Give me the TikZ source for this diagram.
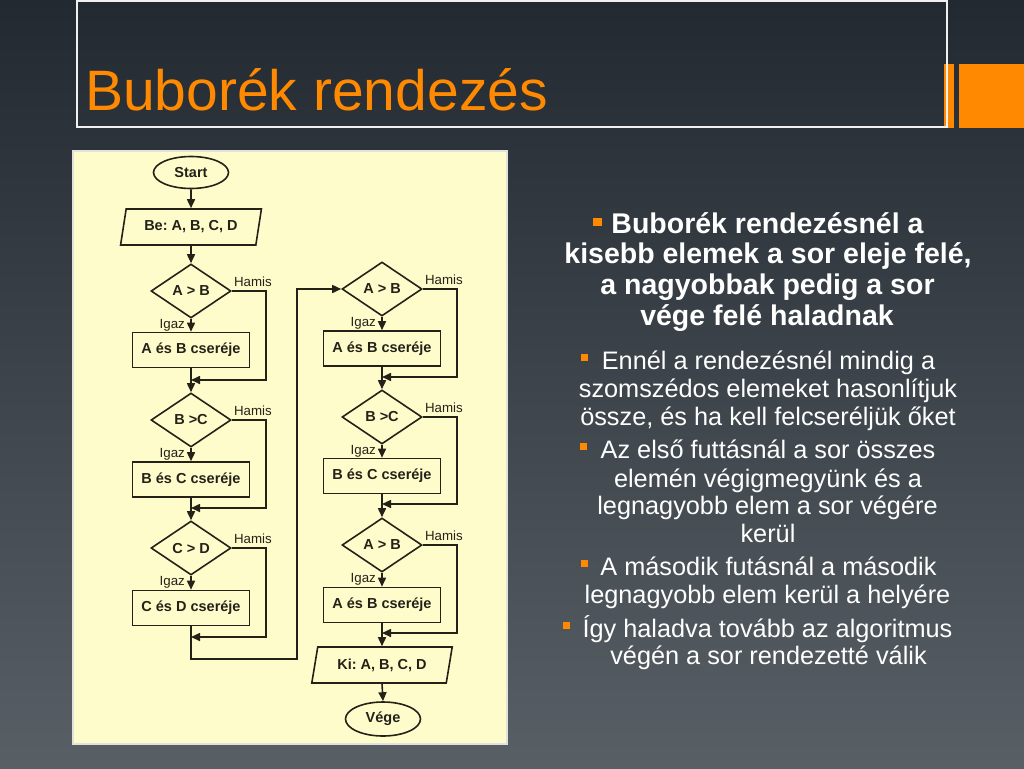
\documentclass[tikz,border=0pt]{standalone}
\usepackage{fontspec}
\setmainfont{Liberation Sans}
\usetikzlibrary{shapes.geometric,arrows.meta,calc}
\frenchspacing
\definecolor{bgtop}{RGB}{34,41,48}
\definecolor{bgmid}{RGB}{42,49,56}
\definecolor{bgbot}{RGB}{88,95,101}
\definecolor{orng}{RGB}{255,137,0}
\definecolor{panelfill}{RGB}{255,252,204}
\definecolor{panelline}{RGB}{225,225,222}
\definecolor{ink}{RGB}{36,34,24}
\definecolor{hdrline}{RGB}{240,240,240}
\begin{document}
\frenchspacing
\begin{tikzpicture}[x=1pt,y=-1pt,
  fc/.style={draw=ink, line width=1.6pt, text=ink, font=\fontsize{14.5}{16}\selectfont\bfseries\frenchspacing, inner sep=0pt},
  term/.style={fc, ellipse, minimum width=75pt, minimum height=32pt},
  io/.style={fc, trapezium, trapezium left angle=72, trapezium right angle=108, trapezium stretches=true, minimum width=141pt, minimum height=36pt},
  dec/.style={fc, diamond, minimum width=80pt, minimum height=54pt},
  proc/.style={fc, rectangle, minimum width=117pt, minimum height=35pt},
  lbl/.style={text=ink, font=\fontsize{13.3}{15}\selectfont, inner sep=0pt},
  arr/.style={draw=ink, line width=1.6pt, -{Triangle[length=9pt,width=8pt]}},
  hd/.style={text=white, font=\fontsize{28.5}{31}\selectfont\bfseries\frenchspacing, anchor=base, inner sep=0pt},
  bd/.style={text=white, font=\fontsize{25.3}{28}\selectfont\frenchspacing, anchor=base, inner sep=0pt},
  bul/.style={fill=orng}
]
\useasboundingbox (0,0) rectangle (1024,768);
\shade[top color=bgtop, middle color=bgmid, bottom color=bgbot] (0,0) rectangle (1024,768);

% header
\fill[orng] (944,64) rectangle (954,128);
\fill[orng] (959,64) rectangle (1024,128);
\draw[hdrline, line width=2pt] (77,1) rectangle (947,127);
\node[anchor=base west, text=orng, font=\fontsize{57}{60}\selectfont, inner sep=0pt] (title) at (85,110) {Buborék rendezés};

% panel
\draw[panelline, fill=panelfill, line width=2pt] (73,151) rectangle (507,744);

% left column
\node[term] (start) at (191,172.5) {Start};
\node[io] (be) at (191,227) {Be: A, B, C, D};
\node[dec] (d1) at (191,291) {A > B};
\node[proc] (b1) at (191,350) {A és B cseréje};
\node[dec] (d2) at (191,420) {B >C};
\node[proc] (b2) at (191,479.5) {B és C cseréje};
\node[dec] (d3) at (191,548) {C > D};
\node[proc] (b3) at (191,608) {C és D cseréje};
\coordinate (m1) at (191,380);
\coordinate (m2) at (191,508);
\coordinate (m3) at (191,637);
\coordinate (lp) at (297,659);

% right column
\node[dec] (e1) at (382,289) {A > B};
\node[proc] (c1) at (382,348.5) {A és B cseréje};
\node[dec] (e2) at (382,417) {B >C};
\node[proc] (c2) at (382,476) {B és C cseréje};
\node[dec] (e3) at (382,545) {A > B};
\node[proc] (c3) at (382,605) {A és B cseréje};
\node[io] (ki) at (382,665) {Ki: A, B, C, D};
\node[term, minimum height=34pt] (vege) at (383,719) {Vége};
\coordinate (n1) at (382,377);
\coordinate (n2) at (382,504);
\coordinate (n3) at (382,633);

% connectors left
\draw[arr] (start) -- (be);
\draw[arr] (be) -- (d1);
\draw[arr] (d1) -- (b1);
\draw[arr] (b1) -- (d2);
\draw[arr] (d2) -- (b2);
\draw[arr] (b2) -- (d3);
\draw[arr] (d3) -- (b3);
\draw[arr] (d1.east) -- ++(34,0) |- (m1);
\draw[arr] (d2.east) -- ++(34,0) |- (m2);
\draw[arr] (d3.east) -- ++(34,0) |- (m3);
\draw[arr] (b3.south) |- (lp) |- (e1.west);

% connectors right
\draw[arr] (e1) -- (c1);
\draw[arr] (c1) -- (e2);
\draw[arr] (e2) -- (c2);
\draw[arr] (c2) -- (e3);
\draw[arr] (e3) -- (c3);
\draw[arr] (c3) -- (ki);
\draw[arr] (ki.south) -- (vege.north);
\draw[arr] (e1.east) -- ++(34,0) |- (n1);
\draw[arr] (e2.east) -- ++(34,0) |- (n2);
\draw[arr] (e3.east) -- ++(34,0) |- (n3);

% labels
\foreach \d in {d1,d2,d3,e1,e2,e3}{
  \node[lbl, anchor=base west] (h\d) at ($(\d.east)+(2,-5)$) {Hamis};
}
\node[lbl, anchor=east] (gd1) at ($(d1.south)!.5!(b1.north)+(-6,0)$) {Igaz};
\node[lbl, anchor=east] (gd2) at ($(d2.south)!.5!(b2.north)+(-6,0)$) {Igaz};
\node[lbl, anchor=east] (gd3) at ($(d3.south)!.5!(b3.north)+(-6,0)$) {Igaz};
\node[lbl, anchor=east] (ge1) at ($(e1.south)!.5!(c1.north)+(-6,0)$) {Igaz};
\node[lbl, anchor=east] (ge2) at ($(e2.south)!.5!(c2.north)+(-6,0)$) {Igaz};
\node[lbl, anchor=east] (ge3) at ($(e3.south)!.5!(c3.north)+(-6,0)$) {Igaz};

% right text
\fill[bul] (593,218) rectangle (602,226);
\node[hd] (t1) at (767.5,233) {Buborék rendezésnél a};
\node[hd] (t2) at (768,263) {kisebb elemek a sor eleje felé,};
\node[hd] (t3) at (767.5,294) {a nagyobbak pedig a sor};
\node[hd] (t4) at (767,325) {vége felé haladnak};

\fill[bul] (581,354) rectangle (588,361);
\node[bd] (s1) at (768.5,369) {Ennél a rendezésnél mindig a};
\node[bd] (s2) at (768,397) {szomszédos elemeket hasonlítjuk};
\node[bd] (s3) at (768,425) {össze, és ha kell felcseréljük őket};
\fill[bul] (580,443) rectangle (587,450);
\node[bd] (s4) at (768,458) {Az első futtásnál a sor összes};
\node[bd] (s5) at (768,487) {elemén végigmegyünk és a};
\node[bd] (s6) at (767.5,514) {legnagyobb elem a sor végére};
\node[bd] (s7) at (768,542) {kerül};
\fill[bul] (581,560) rectangle (588,567);
\node[bd] (s8) at (768.5,575) {A második futásnál a második};
\node[bd] (s9) at (767.5,603) {legnagyobb elem kerül a helyére};
\fill[bul] (563,622) rectangle (570,629);
\node[bd] (s10) at (767.5,637) {Így haladva tovább az algoritmus};
\node[bd] (s11) at (768.5,664) {végén a sor rendezetté válik};
\end{tikzpicture}
\end{document}
